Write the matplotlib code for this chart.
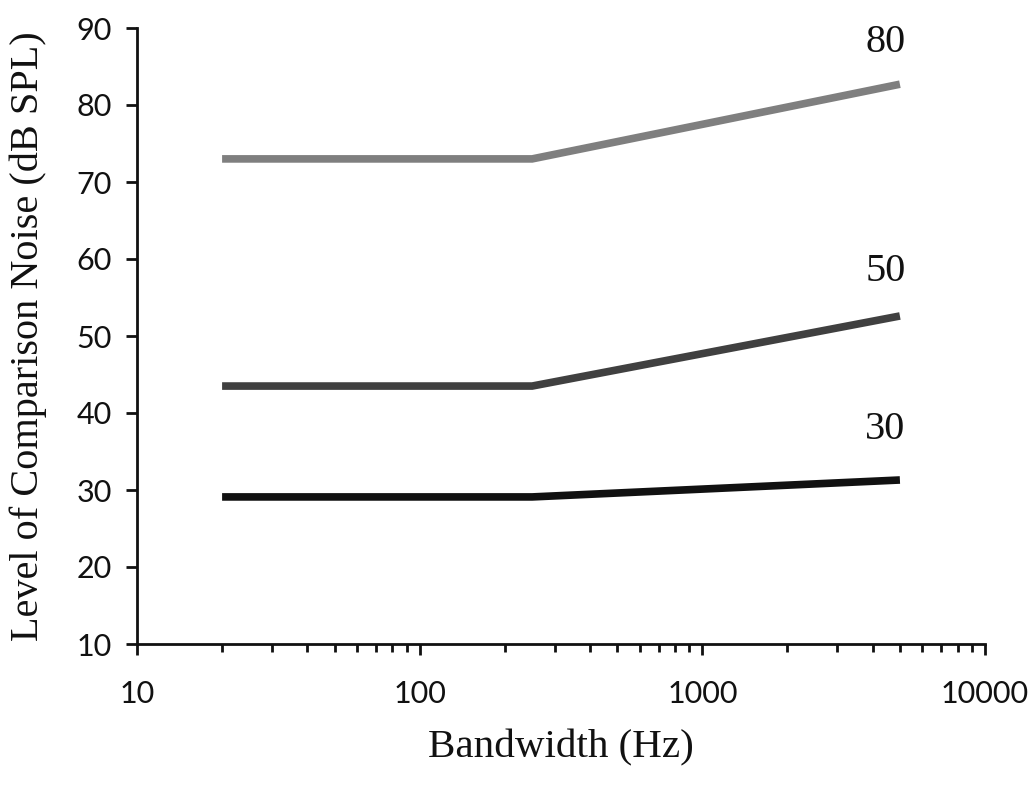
import matplotlib
matplotlib.use("Agg")
import matplotlib.pyplot as plt
from matplotlib.ticker import LogLocator, FixedLocator, NullFormatter

bandwidth = [20, 250, 5000]
level_80 = [73.0, 73.0, 82.7]
level_50 = [43.5, 43.5, 52.6]
level_30 = [29.1, 29.1, 31.3]
series_labels = ["80", "50", "30"]
x_ticks = [10, 100, 1000, 10000]
y_ticks = [10, 20, 30, 40, 50, 60, 70, 80, 90]

fig = plt.figure(figsize=(10.35, 7.85), dpi=100)
ax = fig.add_axes([137/1035, 1 - 644/785, (985-137)/1035, (644-28)/785])

colors = ["#7f7f7f", "#404040", "#111111"]
label_offsets_pt = [23, 25, 29.5]
for vals, c, lab, off in zip([level_80, level_50, level_30], colors, series_labels, label_offsets_pt):
    ax.plot(bandwidth, vals, color=c, lw=5.5, solid_capstyle="butt", solid_joinstyle="miter")
    ax.annotate(lab, xy=(bandwidth[-1], vals[-1]), xytext=(4, off), textcoords="offset points",
                ha="right", va="baseline", fontsize=29, family="Liberation Serif",
                color="#111111")

ax.set_xscale("log")
ax.set_xlim(10, 10000)
ax.set_ylim(10, 90)
ax.xaxis.set_major_locator(FixedLocator(x_ticks))
ax.set_xticklabels([str(t) for t in x_ticks])
ax.xaxis.set_minor_locator(LogLocator(base=10, subs=range(2, 10), numticks=20))
ax.xaxis.set_minor_formatter(NullFormatter())
ax.set_yticks(y_ticks)
ax.set_yticklabels([str(t) for t in y_ticks])

for s in ["top", "right"]:
    ax.spines[s].set_visible(False)
for s in ["left", "bottom"]:
    ax.spines[s].set_linewidth(2)
    ax.spines[s].set_color("#111111")

ax.tick_params(axis="both", which="major", direction="out", length=8, width=2,
               color="#111111", labelsize=22)
ax.tick_params(axis="y", which="major", pad=10)
ax.tick_params(axis="x", which="minor", direction="out", length=6, width=2, color="#111111")
ax.tick_params(axis="x", which="major", pad=18)
for lbl in ax.get_xticklabels() + ax.get_yticklabels():
    lbl.set_family("Lato")
    lbl.set_color("#111111")

ax.set_xlabel("Bandwidth (Hz)", fontsize=29.5, family="Liberation Serif", labelpad=15, color="#111111")
ax.set_ylabel("Level of Comparison Noise (dB SPL)", fontsize=29, family="Liberation Serif",
              labelpad=21, color="#111111")

fig.savefig("out.png", dpi=100, facecolor="white")
